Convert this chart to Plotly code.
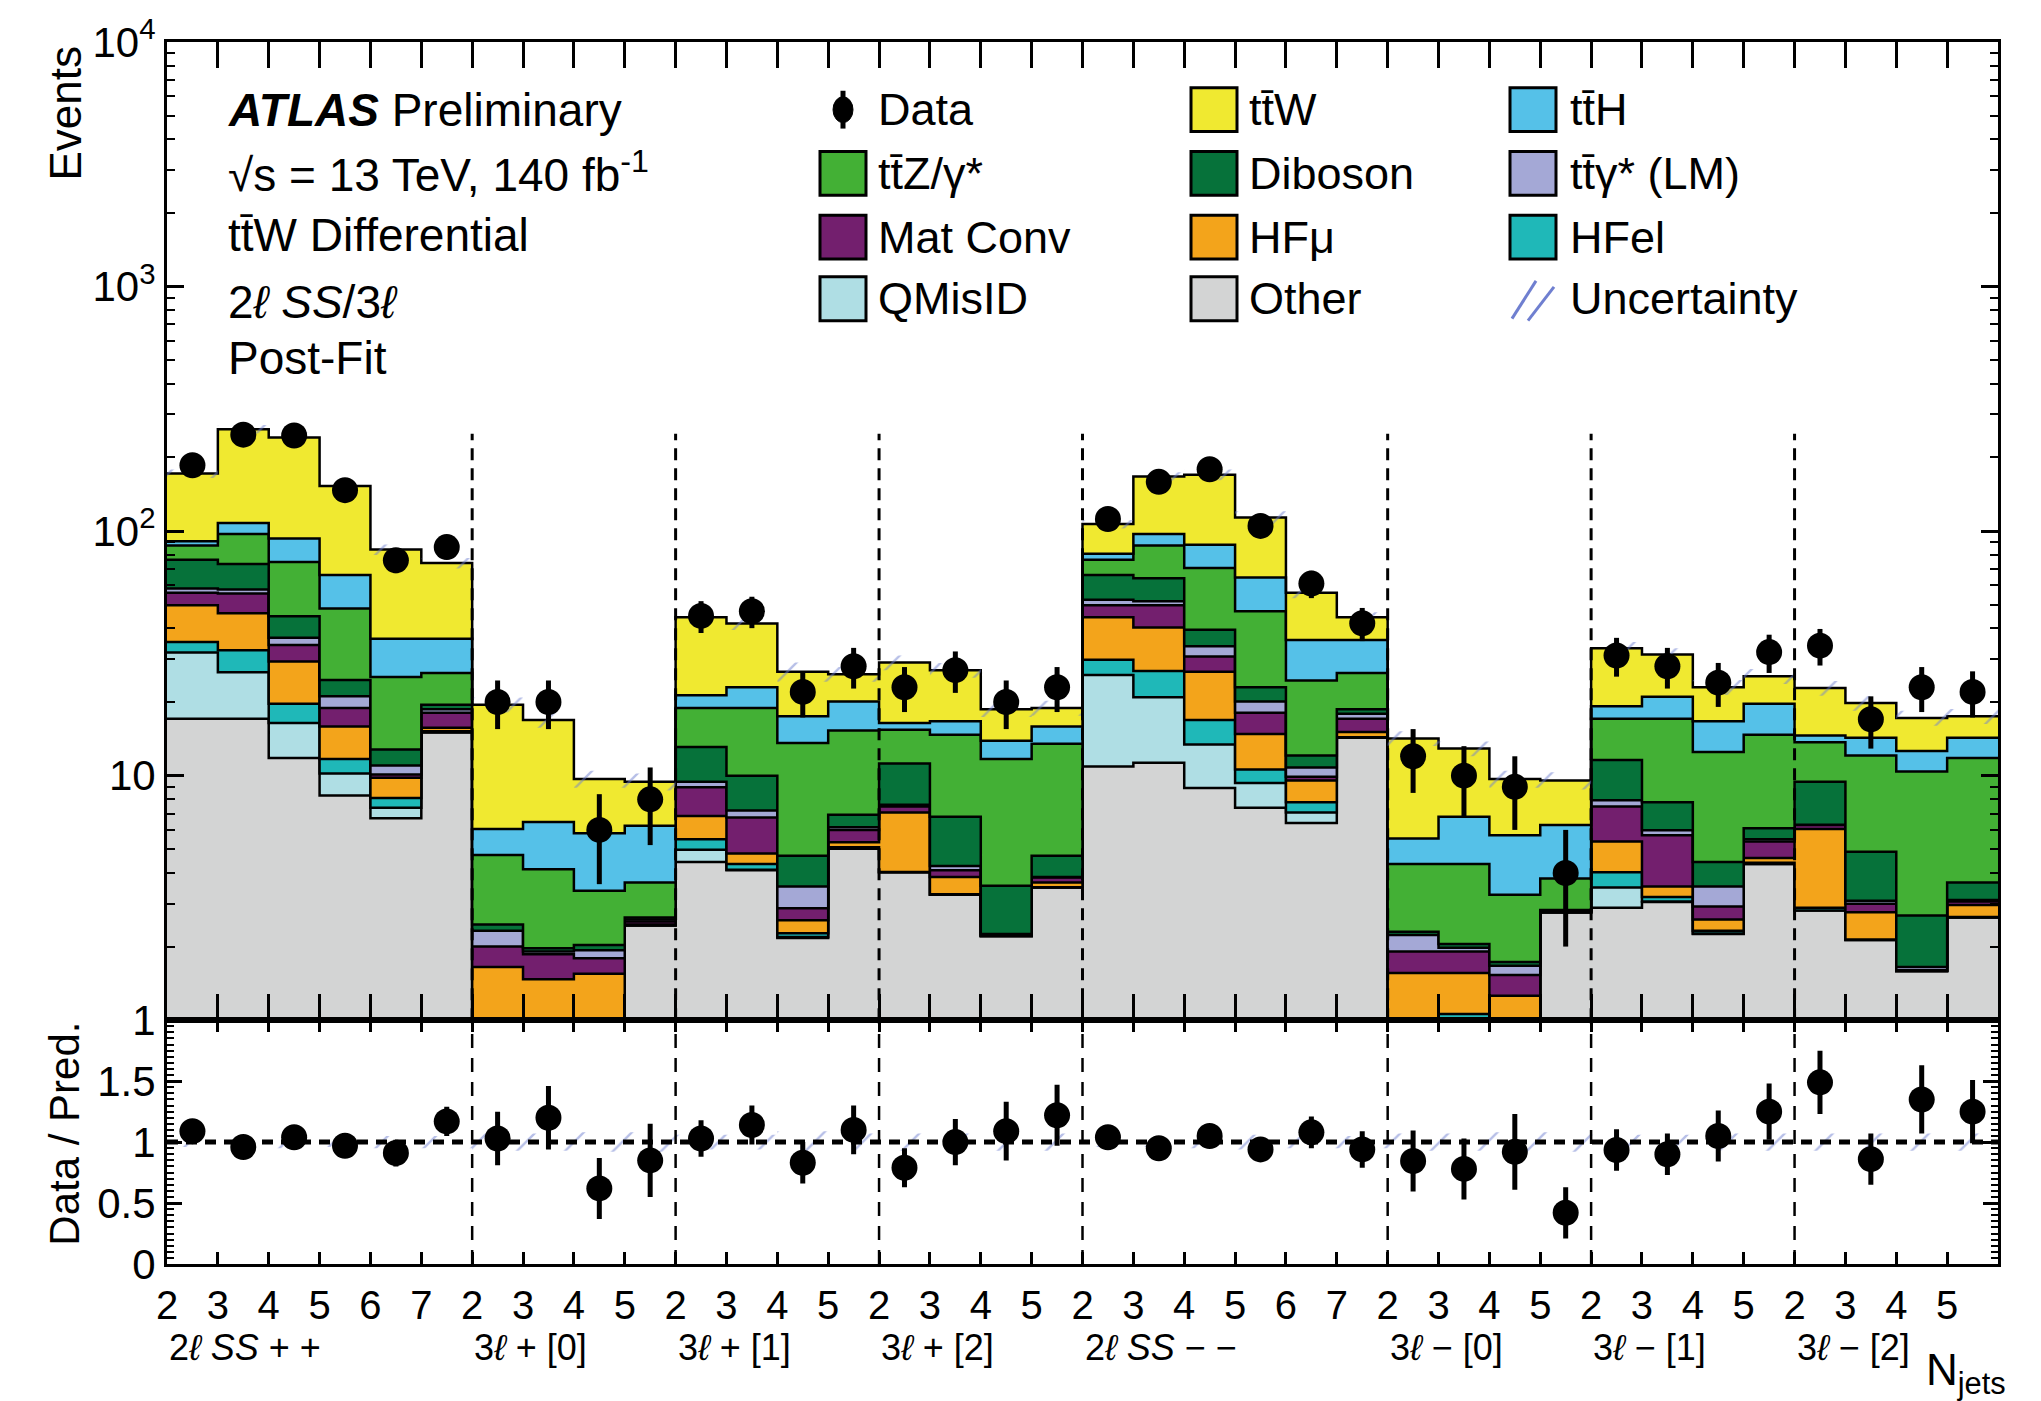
import numpy as np
import plotly.graph_objects as go

# ---------------- data ----------------
cat_labels = ["2<i>ℓ SS</i> + +", "3<i>ℓ</i> + [0]", "3<i>ℓ</i> + [1]", "3<i>ℓ</i> + [2]",
              "2<i>ℓ SS</i> − −", "3<i>ℓ</i> − [0]", "3<i>ℓ</i> − [1]", "3<i>ℓ</i> − [2]"]
njets_per_cat = [[2, 3, 4, 5, 6, 7], [2, 3, 4, 5], [2, 3, 4, 5], [2, 3, 4, 5],
                 [2, 3, 4, 5, 6, 7], [2, 3, 4, 5], [2, 3, 4, 5], [2, 3, 4, 5]]

other = [17.1, 17.1, 11.8, 8.3, 6.7, 15.0, 0.5, 0.5, 0.5, 2.44, 4.44, 4.1, 2.17, 5.02, 4.03, 3.26, 2.21, 3.49,
         10.9, 11.3, 8.9, 7.4, 6.41, 14.3, 0.5, 0.9, 0.5, 2.76, 2.88, 3.04, 2.25, 4.35, 2.81, 2.13, 1.59, 2.63]
qmisid = [14.8, 9.4, 4.6, 1.9, 0.7, 0.05, 0.05, 0.05, 0.05, 0.0, 0.54, 0.02, 0.02, 0.0, 0.0, 0.0, 0.0, 0.0,
          14.9, 9.6, 4.5, 1.93, 0.65, 0.0, 0.05, 0.05, 0.05, 0.0, 0.61, 0.02, 0.01, 0.0, 0.0, 0.0, 0.0, 0.0]
hfel = [3.3, 6.1, 3.3, 1.5, 0.7, 0.15, 0.05, 0.05, 0.05, 0.01, 0.51, 0.23, 0.08, 0.08, 0.01, 0.01, 0.0, 0.01,
        4.0, 5.9, 3.5, 1.27, 0.72, 0.05, 0.05, 0.11, 0.05, 0.0, 0.54, 0.13, 0.06, 0.05, 0.07, 0.01, 0.0, 0.01]
hfmu = [14.6, 13.5, 9.6, 4.2, 1.7, 0.5, 1.05, 0.87, 0.95, 0.01, 1.35, 0.45, 0.29, 0.24, 3.02, 0.58, 0.0, 0.16,
        14.6, 13.5, 9.7, 4.2, 1.77, 0.75, 0.96, 0.5, 0.66, 0.0, 1.35, 0.33, 0.26, 0.2, 3.17, 0.62, 0.0, 0.32]
matconv = [6.2, 9.5, 4.9, 3.0, 0.3, 2.4, 0.35, 0.39, 0.24, 0.07, 2.13, 1.94, 0.31, 0.66, 0.42, 0.25, 0.02, 0.17,
           5.4, 9.5, 4.1, 3.3, 0.35, 2.0, 0.35, 0.35, 0.27, 0.01, 2.1, 2.19, 0.34, 0.78, 0.23, 0.23, 0.01, 0.1]
ttgamma = [2.2, 2.1, 2.4, 2.2, 0.9, 0.6, 0.32, 0.05, 0.14, 0.05, 0.47, 0.46, 0.65, 0.15, 0.12, 0.17, 0.02, 0.02,
           2.6, 1.9, 3.1, 2.0, 0.9, 0.8, 0.32, 0.07, 0.14, 0.03, 0.45, 0.27, 0.6, 0.12, 0.02, 0.09, 0.05, 0.04]
diboson = [18.1, 15.7, 8.3, 3.5, 1.8, 0.8, 0.14, 0.06, 0.10, 0.05, 3.66, 2.8, 1.18, 0.77, 3.6, 2.52, 1.30, 0.85,
           13.7, 12.4, 5.7, 2.9, 1.3, 0.8, 0.07, 0.07, 0.06, 0.02, 3.67, 1.8, 0.92, 0.6, 3.14, 1.81, 1.03, 0.56]
ttz = [11.1, 23.9, 29.9, 23.7, 12.5, 6.8, 2.28, 2.17, 1.35, 1.03, 5.8, 8.9, 8.9, 8.38, 4.2, 7.91, 8.15, 8.8,
       10.2, 23.3, 31.1, 24.0, 12.4, 7.6, 2.05, 2.3, 1.53, 0.98, 5.5, 9.32, 8.06, 8.6, 4.26, 7.21, 7.72, 8.14]
tth = [3.4, 10.7, 18.5, 17.8, 11.0, 10.0, 1.31, 2.32, 2.44, 2.58, 2.4, 4.1, 3.9, 4.8, 1.0, 2.0, 2.2, 2.4,
       4.5, 9.9, 17.4, 17.6, 11.4, 9.6, 1.18, 2.44, 2.45, 2.49, 2.1, 3.9, 4.2, 5.0, 0.9, 2.2, 2.2, 2.5]
ttw = [81.1, 153, 148.3, 86.9, 47.7, 37.7, 13.45, 10.44, 3.88, 3.2, 23.1, 18.9, 9.1, 5.9, 12.6, 10.3, 4.8, 3.0,
       26.0, 70.0, 82, 49.0, 20.1, 8.5, 8.67, 6.11, 3.99, 3.26, 14.0, 10.3, 6.3, 5.8, 8.2, 5.5, 4.6, 3.2]

data = [186, 248, 246, 147, 76, 86, 20, 20, 6, 8, 45, 47, 22, 28, 23, 27, 20, 23,
        112, 159, 179, 105, 61, 42, 12, 10, 9, 4, 31, 28, 24, 32, 34, 17, 23, 22]
data_err = [13.6, 15.7, 15.7, 12.1, 8.7, 9.3, 4.5, 4.5, 2.4, 2.8, 6.7, 6.9, 4.7, 5.3, 4.8, 5.2, 4.5, 4.8,
            10.6, 12.6, 13.4, 10.2, 7.8, 6.5, 3.5, 3.2, 3.0, 2.0, 5.6, 5.3, 4.9, 5.7, 5.8, 4.1, 4.8, 4.7]

ratio = [1.09, 0.96, 1.04, 0.97, 0.91, 1.17, 1.03, 1.20, 0.62, 0.85, 1.03, 1.14, 0.83, 1.10, 0.79, 1.00, 1.09, 1.22,
         1.04, 0.95, 1.05, 0.94, 1.08, 0.94, 0.845, 0.78, 0.92, 0.42, 0.935, 0.90, 1.05, 1.25, 1.49, 0.86, 1.35, 1.25]
ratio_err = [0.08, 0.06, 0.065, 0.08, 0.11, 0.12, 0.22, 0.26, 0.25, 0.30, 0.15, 0.16, 0.17, 0.20, 0.16, 0.19, 0.24, 0.25,
             0.10, 0.075, 0.08, 0.09, 0.13, 0.15, 0.25, 0.25, 0.31, 0.21, 0.17, 0.17, 0.21, 0.23, 0.26, 0.21, 0.28, 0.26]
rel_unc = [0.04, 0.04, 0.05, 0.04, 0.05, 0.05, 0.07, 0.07, 0.08, 0.08, 0.06, 0.06, 0.09, 0.07, 0.07, 0.07, 0.07, 0.07,
           0.04, 0.04, 0.05, 0.06, 0.05, 0.05, 0.07, 0.07, 0.08, 0.08, 0.06, 0.06, 0.07, 0.07, 0.07, 0.07, 0.07, 0.07]

components = [
    ("Other", other, "#d3d4d4"),
    ("QMisID", qmisid, "#afdee4"),
    ("HFel", hfel, "#1fb8b8"),
    ("HFμ", hfmu, "#f3a41b"),
    ("Mat Conv", matconv, "#731f6e"),
    ("tt̄γ* (LM)", ttgamma, "#a4a8d6"),
    ("Diboson", diboson, "#06723a"),
    ("tt̄Z/γ*", ttz, "#43b035"),
    ("tt̄H", tth, "#55c1e8"),
    ("tt̄W", ttw, "#f0e930"),
]
unc_color = "#6f7fd0"

# ---------------- derived structure ----------------
tick_labels = [str(n) for cat in njets_per_cat for n in cat]
nb = len(tick_labels)
edges = np.arange(nb + 1)
centers = edges[:-1] + 0.5
cat_start = np.cumsum([0] + [len(c) for c in njets_per_cat])[:-1]
boundaries = [int(b) for b in cat_start[1:]]

fig = go.Figure()

# baseline for stacking
fig.add_trace(go.Scatter(x=edges, y=[1e-3] * (nb + 1), mode="lines",
                         line=dict(width=0, shape="hv"), hoverinfo="skip",
                         xaxis="x", yaxis="y"))
cum = np.zeros(nb)
for name, vals, col in components:
    cum = cum + np.array(vals, dtype=float)
    fig.add_trace(go.Scatter(x=edges, y=np.append(cum, cum[-1]), mode="lines", name=name,
                             line=dict(color="black", width=2.5, shape="hv"),
                             fill="tonexty", fillcolor=col, xaxis="x", yaxis="y"))
total = cum
unc = np.array(rel_unc)

# uncertainty bands
lo = total * (1 - unc)
hi = total * (1 + unc)
pattern = dict(shape="/", size=34, solidity=0.07, fgcolor=unc_color, bgcolor="rgba(0,0,0,0)")
fig.add_trace(go.Scatter(x=edges, y=np.append(lo, lo[-1]), mode="lines",
                         line=dict(width=0, shape="hv"), xaxis="x", yaxis="y", hoverinfo="skip"))
fig.add_trace(go.Scatter(x=edges, y=np.append(hi, hi[-1]), mode="lines",
                         line=dict(width=0, shape="hv"), fill="tonexty", fillcolor="rgba(0,0,0,0)",
                         fillpattern=pattern, xaxis="x", yaxis="y", hoverinfo="skip"))
fig.add_trace(go.Scatter(x=edges, y=np.append(1 - unc, 1 - unc[-1]), mode="lines",
                         line=dict(width=0, shape="hv"), xaxis="x2", yaxis="y2", hoverinfo="skip"))
fig.add_trace(go.Scatter(x=edges, y=np.append(1 + unc, 1 + unc[-1]), mode="lines",
                         line=dict(width=0, shape="hv"), fill="tonexty", fillcolor="rgba(0,0,0,0)",
                         fillpattern=pattern, xaxis="x2", yaxis="y2", hoverinfo="skip"))

# category separators
vx, vy, vy2 = [], [], []
for b in boundaries:
    vx += [b, b, None]
    vy += [1, 250, None]
    vy2 += [0, 2, None]
fig.add_trace(go.Scatter(x=vx, y=vy, mode="lines", line=dict(color="black", width=3, dash="12px,8px"),
                         xaxis="x", yaxis="y", hoverinfo="skip"))
fig.add_trace(go.Scatter(x=vx, y=vy2, mode="lines", line=dict(color="black", width=2.5, dash="14px,10px"),
                         xaxis="x2", yaxis="y2", hoverinfo="skip"))
fig.add_trace(go.Scatter(x=[0, nb], y=[1, 1], mode="lines", line=dict(color="black", width=5, dash="11px,8px"),
                         xaxis="x2", yaxis="y2", hoverinfo="skip"))

# data
fig.add_trace(go.Scatter(x=centers, y=data, mode="markers", name="Data",
                         marker=dict(color="black", size=26),
                         error_y=dict(type="data", array=data_err, color="black", thickness=5, width=0),
                         xaxis="x", yaxis="y"))
fig.add_trace(go.Scatter(x=centers, y=ratio, mode="markers",
                         marker=dict(color="black", size=26),
                         error_y=dict(type="data", array=ratio_err, color="black", thickness=5, width=0),
                         xaxis="x2", yaxis="y2"))

# ---------------- layout ----------------
W, H = 2041, 1401
ML, MR, MT, MB = 167, 43, 36, 137
PW, PH = W - ML - MR, H - MT - MB


def px(X):
    return (X - ML) / PW


def py(Y):
    return (H - MB - Y) / PH


split = py(1019)

minor_log = [m * 10 ** k for k in range(4) for m in range(2, 10)]
axis_common = dict(showline=True, linecolor="black", linewidth=3, mirror="ticks", ticks="inside",
                   tickcolor="black", tickwidth=2.5, showgrid=False, zeroline=False)

fig.update_layout(
    width=W, height=H, margin=dict(l=ML, r=MR, t=MT, b=MB),
    paper_bgcolor="white", plot_bgcolor="white", showlegend=False,
    font=dict(family="Liberation Sans, Arial, Helvetica, sans-serif", color="black", size=40),
    xaxis=dict(axis_common, domain=[0, 1], anchor="y", range=[0, nb], tickmode="array",
               tickvals=list(edges), showticklabels=False, ticklen=26),
    yaxis=dict(axis_common, domain=[split, 1], anchor="x", type="log", range=[0, 4], tickmode="array",
               tickvals=[1, 10, 100, 1000, 10000],
               ticktext=["1", "10", "10<sup>2</sup>", "10<sup>3</sup>", "10<sup>4</sup>"],
               tickfont=dict(size=42), ticklen=17,
               minor=dict(ticks="inside", ticklen=8, tickwidth=2, tickcolor="black",
                          tickmode="array", tickvals=minor_log)),
    xaxis2=dict(axis_common, domain=[0, 1], anchor="y2", range=[0, nb], tickmode="array",
                tickvals=list(edges), ticktext=tick_labels + [" "], tickfont=dict(size=40),
                ticklen=12, ticklabelstandoff=4),
    yaxis2=dict(axis_common, domain=[0, split], anchor="x2", range=[0, 2], tickmode="array",
                tickvals=[0, 0.5, 1, 1.5], ticktext=["0", "0.5", "1", "1.5"], tickfont=dict(size=42),
                ticklen=15,
                minor=dict(ticks="inside", ticklen=7, tickwidth=2, tickcolor="black",
                           tickmode="linear", tick0=0, dtick=0.05)),
)

ann = []
shapes = []

# ATLAS label block
info = [("<b><i>ATLAS</i></b> Preliminary", 104), ("√s = 13 TeV, 140 fb<sup>-1</sup>", 167),
        ("tt̄W Differential", 230), ("2<i>ℓ SS</i>/3<i>ℓ</i>", 297), ("Post-Fit", 354)]
for t, Y in info:
    ann.append(dict(text=t, x=px(226), y=py(Y), xref="paper", yref="paper", xanchor="left",
                    yanchor="middle", showarrow=False, font=dict(size=46)))

# legend (manual grid)
rows_Y = [104, 168, 232, 294]
col_box = [820, 1191, 1510]
col_txt = [876, 1247, 1568]
comp_color = {n: c for n, _, c in components}
legend_grid = [
    ["Data", "tt̄Z/γ*", "Mat Conv", "QMisID"],
    ["tt̄W", "Diboson", "HFμ", "Other"],
    ["tt̄H", "tt̄γ* (LM)", "HFel", "Uncertainty"],
]
BW, BH = 46, 44
for ci, col in enumerate(legend_grid):
    for ri, name in enumerate(col):
        Y = rows_Y[ri]
        X0 = col_box[ci]
        if name == "Data":
            cx = X0 + BW / 2
            shapes.append(dict(type="line", xref="paper", yref="paper", x0=px(cx), x1=px(cx),
                               y0=py(Y - 19), y1=py(Y + 19), line=dict(color="black", width=5)))
            shapes.append(dict(type="circle", xref="paper", yref="paper", x0=px(cx - 10), x1=px(cx + 10),
                               y0=py(Y - 13), y1=py(Y + 13), fillcolor="black", line=dict(color="black", width=1)))
        elif name == "Uncertainty":
            shapes.append(dict(type="line", xref="paper", yref="paper", x0=px(X0 + 2), y0=py(Y + 20),
                               x1=px(X0 + 26), y1=py(Y - 18), line=dict(color=unc_color, width=3)))
            shapes.append(dict(type="line", xref="paper", yref="paper", x0=px(X0 + 18), y0=py(Y + 22),
                               x1=px(X0 + 44), y1=py(Y - 12), line=dict(color=unc_color, width=3)))
        else:
            shapes.append(dict(type="rect", xref="paper", yref="paper", x0=px(X0), x1=px(X0 + BW),
                               y0=py(Y + BH / 2), y1=py(Y - BH / 2), fillcolor=comp_color[name],
                               line=dict(color="black", width=3)))
        ann.append(dict(text=name, x=px(col_txt[ci]), y=py(Y), xref="paper", yref="paper",
                        xanchor="left", yanchor="middle", showarrow=False, font=dict(size=45)))

# category labels below x axis
for lab, s in zip(cat_labels, cat_start):
    ann.append(dict(text=lab, x=float(s), y=py(1348), xref="x2", yref="paper", xanchor="left",
                    yanchor="middle", showarrow=False, font=dict(size=36)))

ann.append(dict(text="N<sub>jets</sub>", x=px(2008), y=py(1374), xref="paper", yref="paper",
                xanchor="right", yanchor="middle", showarrow=False, font=dict(size=44)))
ann.append(dict(text="Events", x=px(65), y=py(38), xref="paper", yref="paper", xanchor="center",
                yanchor="top", textangle=-90, showarrow=False, font=dict(size=44)))
ann.append(dict(text="Data / Pred.", x=px(65), y=py(1133), xref="paper", yref="paper", xanchor="center",
                yanchor="middle", textangle=-90, showarrow=False, font=dict(size=42)))

fig.update_layout(annotations=ann, shapes=shapes)
fig.write_html("out.html")
